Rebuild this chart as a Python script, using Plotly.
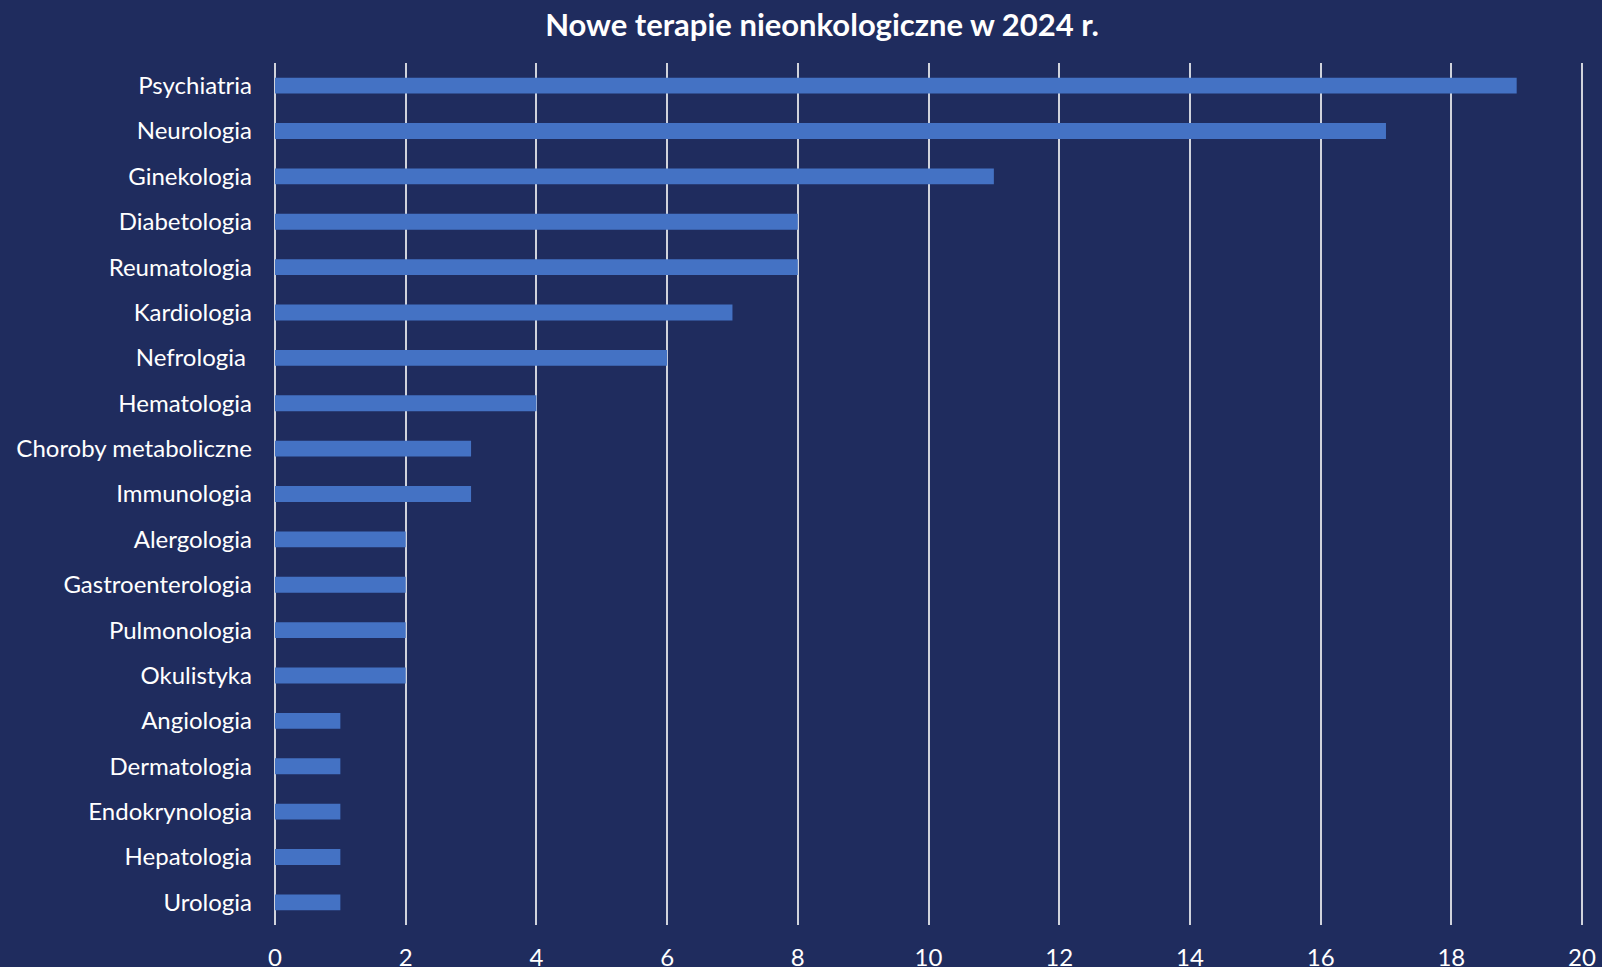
import plotly.graph_objects as go

categories = ["Psychiatria", "Neurologia", "Ginekologia", "Diabetologia", "Reumatologia",
              "Kardiologia", "Nefrologia\u00a0", "Hematologia", "Choroby metaboliczne",
              "Immunologia", "Alergologia", "Gastroenterologia", "Pulmonologia", "Okulistyka",
              "Angiologia", "Dermatologia", "Endokrynologia", "Hepatologia", "Urologia"]
values = [19, 17, 11, 8, 8, 7, 6, 4, 3, 3, 2, 2, 2, 2, 1, 1, 1, 1, 1]
x_ticks = [0, 2, 4, 6, 8, 10, 12, 14, 16, 18, 20]

title_text = "Nowe terapie nieonkologiczne w 2024 r."

BG = "#1F2C5E"
GRID = "#D0D3DC"
BAR = "#4472C4"

fig = go.Figure(go.Bar(
    x=values, y=categories, orientation="h",
    marker=dict(color=BAR, line=dict(width=0)),
    width=0.35,
    hoverinfo="x+y",
))

fig.update_layout(
    width=1602, height=967,
    paper_bgcolor=BG, plot_bgcolor=BG,
    margin=dict(l=275, r=18, t=63, b=42),
    font=dict(family="Lato", color="white", size=24),
    title=dict(text=title_text, x=822/1602, xanchor="center", xref="container",
               y=1 - 25/967, yanchor="middle", yref="container",
               font=dict(family="Lato", size=31, color="white", weight="bold")),
    showlegend=False,
)

fig.update_xaxes(
    range=[0, 20.03], tickvals=x_ticks, ticktext=[str(v) for v in x_ticks],
    showgrid=True, gridcolor=GRID, gridwidth=2,
    zeroline=True, zerolinecolor=GRID, zerolinewidth=2,
    showline=False, ticks="", ticklabelstandoff=16, automargin=False,
    tickfont=dict(family="Lato", size=24, color="white"),
)
fig.update_yaxes(
    autorange="reversed", showgrid=False, zeroline=False, showline=False,
    ticks="", ticklabelstandoff=22, automargin=False,
    tickfont=dict(family="Lato", size=24, color="white"),
)

fig.write_html("out.html")
